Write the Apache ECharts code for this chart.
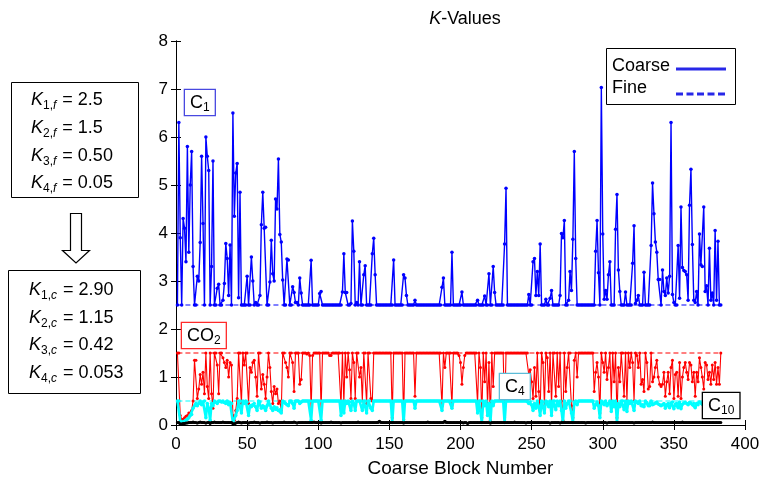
<!DOCTYPE html>
<html><head><meta charset="utf-8">
<script src="https://cdn.jsdelivr.net/npm/echarts@6/dist/echarts.min.js"></script>
<style>html,body{margin:0;padding:0;background:#fff}#c{width:763px;height:483px}</style>
</head><body><div id="c"></div>
<script>
// Coarse K-values per coarse block (block 1..383)
const coarseC1 = [
2.5,6.3,3.9,2.5,4.3,4.1,3.4,5.8,3.6,5.0,
5.7,3.3,2.5,2.5,3.1,3.0,3.8,5.6,4.2,2.5,
6.0,5.6,5.3,2.5,3.3,5.5,2.5,2.5,2.85,2.93,
2.5,2.5,2.6,2.95,3.78,3.47,2.7,3.75,2.5,6.5,
4.35,5.25,5.45,2.65,4.85,2.5,2.5,2.5,2.5,3.1,
2.5,2.5,3.5,3.0,2.5,2.55,2.5,2.5,2.7,4.17,
4.85,4.1,4.12,2.5,2.5,2.98,3.85,3.15,3.0,4.71,
4.5,5.54,3.97,3.81,3.02,2.5,2.5,3.46,3.44,2.5,
2.5,2.88,2.76,2.55,2.55,2.5,3.06,2.75,2.5,2.5,
2.5,2.5,2.5,2.5,3.43,2.5,2.5,2.5,2.5,2.5,
2.74,2.78,2.5,2.5,2.5,2.5,2.5,2.5,2.5,2.5,
2.5,2.5,2.5,2.5,2.5,2.5,2.77,3.57,2.76,2.76,
2.5,2.5,2.53,4.25,3.62,2.5,2.55,2.5,3.4,2.5,
2.5,3.13,3.32,2.5,2.5,2.5,2.5,3.57,3.89,3.13,
2.5,2.5,2.5,2.5,2.5,2.5,2.5,2.5,2.5,2.5,
2.5,2.5,3.44,2.5,2.5,2.5,2.5,2.5,2.5,3.13,
3.06,2.7,2.5,2.5,2.5,2.5,2.5,2.6,2.5,2.5,
2.5,2.5,2.5,2.5,2.5,2.5,2.5,2.5,2.5,2.5,
2.5,2.5,2.5,2.5,2.5,2.5,2.87,3.06,2.5,2.5,
2.5,2.5,2.5,3.6,2.5,2.5,2.5,2.5,2.5,2.5,
2.77,2.5,2.5,2.5,2.5,2.5,2.5,2.5,2.5,2.5,
2.5,2.6,2.5,2.5,2.5,2.5,2.69,2.5,2.5,3.15,
2.5,2.5,3.3,2.76,2.5,2.5,2.5,2.5,2.5,2.5,
3.77,4.93,2.5,2.5,2.5,2.5,2.5,2.5,2.5,2.5,
2.5,2.5,2.5,2.5,2.5,2.5,2.5,2.72,2.5,2.5,
3.4,3.47,2.7,3.2,2.7,3.77,2.5,2.5,2.5,2.62,
2.5,2.5,2.64,2.8,2.5,2.5,2.5,2.5,2.5,2.7,
3.99,3.9,4.26,2.5,2.5,2.6,3.2,2.8,3.87,5.7,
3.47,2.5,2.5,2.5,2.5,2.5,2.5,2.5,2.5,2.5,
2.5,2.5,2.5,2.5,3.62,4.26,3.17,2.5,7.03,3.98,
2.62,2.8,2.62,3.13,3.4,2.5,2.5,2.5,4.08,4.8,
3.23,2.78,2.5,2.5,2.5,2.77,2.5,2.5,2.5,2.5,
3.37,4.15,2.53,2.6,2.7,2.5,2.5,2.5,3.18,2.5,
2.5,2.5,2.5,3.74,5.04,4.4,3.81,3.6,3.03,3.03,
2.5,3.23,2.78,2.7,3.06,2.75,3.1,6.3,2.72,2.55,
2.5,2.5,3.74,2.64,4.54,3.28,3.22,3.2,3.13,2.6,
4.58,5.33,3.76,2.6,2.55,2.78,2.5,3.98,3.34,3.3,
4.54,2.78,2.9,2.5,3.68,2.6,2.75,2.5,4.05,2.6,
3.83,2.5,2.5
];
const coarseCO2 = [
1.5,1.5,0.2,0.12,0.12,0.15,0.18,0.2,0.25,0.22,
0.3,0.5,1.35,1.35,0.55,0.75,1.05,0.85,1.1,0.65,
1.5,0.8,0.55,1.5,0.65,0.35,1.5,1.5,1.25,0.65,
1.5,1.5,1.4,1.3,1.2,1.35,1.0,1.3,1.25,0.2,
0.1,0.3,0.55,1.5,1.5,0.45,1.5,1.25,1.5,1.5,
0.45,1.2,1.1,1.3,1.35,1.0,0.6,1.5,1.5,0.75,
1.05,0.85,0.55,1.0,1.5,1.2,0.7,0.45,0.8,0.65,
0.75,0.45,0.5,0.3,1.5,1.5,1.3,1.2,1.0,1.5,
1.5,1.3,0.7,1.5,1.5,1.5,0.85,0.95,1.5,1.5,
1.5,1.48,1.5,1.45,0.3,1.45,1.5,1.5,1.5,1.5,
1.5,0.3,1.5,1.5,1.5,1.5,1.5,1.45,1.45,1.5,
1.5,1.5,1.5,1.5,1.5,0.4,1.5,0.45,1.5,1.0,
1.5,1.15,0.55,1.5,1.3,0.55,1.5,1.5,1.0,1.2,
0.5,1.5,1.5,0.45,1.5,1.5,0.55,0.5,1.5,1.5,
1.5,1.5,1.5,1.5,1.5,1.5,1.5,1.5,1.5,1.5,
1.5,0.15,1.5,1.5,1.5,1.5,1.5,1.5,1.5,0.12,
1.5,1.5,1.5,1.5,1.5,1.5,1.5,0.6,1.5,1.5,
1.5,1.5,1.5,1.5,1.5,1.5,1.5,1.5,1.5,1.5,
1.5,1.5,1.5,1.5,1.5,1.5,0.4,1.5,1.2,1.5,
1.5,1.5,1.5,0.4,1.5,1.5,1.5,1.5,1.45,1.3,
0.85,1.2,1.45,1.5,1.5,1.5,1.5,1.5,1.5,1.5,
1.5,0.45,1.5,1.2,0.15,1.5,0.9,1.5,0.4,1.3,
0.1,1.5,0.8,1.5,1.5,1.5,1.5,1.5,1.5,1.5,
0.15,1.5,1.5,1.5,1.5,1.5,1.5,1.5,1.5,1.5,
1.5,1.5,1.5,1.5,1.5,1.5,1.5,1.05,1.15,0.9,
0.55,1.2,0.6,1.5,0.7,0.3,1.5,1.3,0.4,1.5,
1.4,0.7,1.5,0.4,1.5,1.5,0.6,1.5,0.8,1.5,
0.5,0.1,1.5,0.7,1.2,1.5,1.5,0.4,0.15,1.35,
1.5,1.0,1.5,1.5,1.5,1.5,1.5,1.5,1.5,1.5,
1.5,1.5,1.5,0.7,1.1,1.3,1.0,0.25,1.5,1.3,
1.1,1.5,0.95,1.2,1.5,0.5,1.5,0.9,1.5,0.15,
1.2,0.9,1.5,1.5,0.6,1.5,0.5,1.5,1.2,1.5,
1.3,0.5,1.5,1.45,1.2,1.5,0.85,0.95,0.7,1.5,
1.3,0.75,0.8,1.5,0.9,1.0,1.2,1.35,1.0,0.85,
0.8,0.85,1.1,0.6,0.9,1.1,0.65,1.2,1.35,0.55,
1.05,1.1,0.6,1.3,0.55,1.0,1.2,1.3,1.1,0.95,
1.3,1.25,0.9,1.1,0.6,1.1,0.9,1.4,1.2,1.0,
0.75,1.3,1.25,0.95,1.1,0.85,1.25,0.95,1.3,0.85,
1.2,0.85,1.5
];
const coarseC4 = [
0.5,0.5,0.08,0.05,0.06,0.08,0.1,0.12,0.15,0.2,
0.22,0.35,0.4,0.45,0.4,0.45,0.5,0.42,0.48,0.5,
0.15,0.45,0.35,0.1,0.45,0.4,0.5,0.48,0.45,0.5,
0.5,0.48,0.5,0.47,0.45,0.5,0.42,0.47,0.45,0.05,
0.03,0.2,0.3,0.5,0.5,0.25,0.5,0.45,0.5,0.48,
0.2,0.4,0.38,0.42,0.45,0.38,0.3,0.5,0.48,0.35,
0.4,0.38,0.3,0.4,0.5,0.42,0.35,0.3,0.38,0.33,
0.36,0.3,0.32,0.25,0.5,0.48,0.45,0.42,0.4,0.5,
0.5,0.45,0.35,0.5,0.5,0.5,0.45,0.48,0.5,0.5,
0.5,0.5,0.5,0.5,0.1,0.5,0.5,0.5,0.5,0.5,
0.5,0.1,0.5,0.5,0.5,0.5,0.5,0.5,0.5,0.5,
0.5,0.5,0.5,0.5,0.5,0.2,0.5,0.25,0.5,0.45,
0.5,0.48,0.3,0.5,0.45,0.3,0.5,0.5,0.5,0.5,
0.3,0.5,0.5,0.25,0.5,0.5,0.35,0.3,0.5,0.5,
0.5,0.5,0.5,0.5,0.5,0.5,0.5,0.5,0.5,0.5,
0.5,0.05,0.5,0.5,0.5,0.5,0.5,0.5,0.5,0.05,
0.5,0.5,0.5,0.5,0.5,0.5,0.5,0.35,0.5,0.5,
0.5,0.5,0.5,0.5,0.5,0.5,0.5,0.5,0.5,0.5,
0.5,0.5,0.5,0.5,0.5,0.5,0.3,0.5,0.5,0.5,
0.5,0.5,0.5,0.35,0.5,0.5,0.5,0.5,0.5,0.5,
0.5,0.5,0.5,0.5,0.5,0.5,0.5,0.5,0.5,0.5,
0.5,0.25,0.5,0.5,0.05,0.5,0.4,0.5,0.2,0.45,
0.05,0.5,0.4,0.5,0.5,0.5,0.5,0.5,0.5,0.5,
0.05,0.5,0.5,0.5,0.5,0.5,0.5,0.5,0.5,0.5,
0.5,0.5,0.5,0.5,0.5,0.5,0.5,0.45,0.48,0.42,
0.3,0.45,0.35,0.5,0.38,0.2,0.5,0.48,0.25,0.5,
0.48,0.38,0.5,0.2,0.5,0.5,0.32,0.5,0.4,0.5,
0.3,0.05,0.5,0.35,0.45,0.5,0.5,0.25,0.05,0.48,
0.5,0.42,0.5,0.5,0.5,0.5,0.5,0.5,0.5,0.5,
0.5,0.5,0.5,0.35,0.42,0.48,0.4,0.15,0.5,0.45,
0.42,0.5,0.4,0.45,0.5,0.28,0.5,0.38,0.5,0.05,
0.45,0.38,0.5,0.5,0.32,0.5,0.28,0.5,0.45,0.5,
0.48,0.3,0.5,0.48,0.45,0.5,0.4,0.42,0.38,0.5,
0.47,0.4,0.4,0.5,0.42,0.44,0.46,0.48,0.44,0.42,
0.4,0.42,0.45,0.35,0.42,0.45,0.36,0.46,0.48,0.34,
0.44,0.45,0.36,0.48,0.34,0.43,0.46,0.47,0.45,0.42,
0.47,0.46,0.42,0.45,0.36,0.45,0.42,0.48,0.46,0.43,
0.38,0.47,0.46,0.42,0.45,0.41,0.46,0.42,0.47,0.41,
0.46,0.42,0.5
];
const coarseC10 = [
0.05,0.05,0.02,0.02,0.03,0.03,0.04,0.04,0.05,0.05,
0.05,0.06,0.05,0.05,0.04,0.05,0.06,0.05,0.05,0.05,
0.04,0.05,0.05,0.03,0.05,0.05,0.06,0.05,0.05,0.05,
0.05,0.05,0.06,0.05,0.05,0.05,0.05,0.05,0.05,0.02,
0.02,0.04,0.05,0.06,0.05,0.04,0.05,0.05,0.05,0.05,
0.04,0.05,0.05,0.05,0.06,0.05,0.05,0.05,0.04,0.05,
0.05,0.05,0.05,0.06,0.05,0.05,0.05,0.04,0.05,0.05,
0.05,0.05,0.05,0.05,0.05,0.06,0.05,0.05,0.05,0.05,
0.05,0.05,0.06,0.05,0.04,0.05,0.05,0.05,0.05,0.05,
0.05,0.05,0.05,0.05,0.05,0.05,0.06,0.05,0.05,0.05,
0.05,0.04,0.05,0.05,0.05,0.05,0.05,0.05,0.06,0.05,
0.05,0.05,0.05,0.05,0.05,0.04,0.05,0.05,0.05,0.05,
0.05,0.05,0.05,0.05,0.05,0.05,0.05,0.06,0.05,0.05,
0.05,0.05,0.05,0.05,0.05,0.05,0.05,0.05,0.05,0.05,
0.05,0.05,0.08,0.05,0.05,0.05,0.05,0.05,0.05,0.05,
0.05,0.05,0.05,0.05,0.05,0.05,0.05,0.05,0.05,0.04,
0.05,0.05,0.05,0.05,0.05,0.05,0.05,0.05,0.05,0.05,
0.05,0.05,0.05,0.05,0.05,0.05,0.06,0.05,0.05,0.05,
0.05,0.05,0.05,0.05,0.05,0.05,0.05,0.05,0.08,0.05,
0.05,0.05,0.05,0.05,0.05,0.05,0.05,0.05,0.05,0.05,
0.05,0.04,0.05,0.05,0.03,0.05,0.05,0.05,0.05,0.05,
0.05,0.05,0.05,0.05,0.05,0.05,0.05,0.05,0.05,0.05,
0.04,0.05,0.05,0.05,0.05,0.05,0.05,0.05,0.05,0.05,
0.05,0.05,0.05,0.05,0.05,0.05,0.05,0.06,0.05,0.05,
0.05,0.05,0.05,0.05,0.05,0.04,0.05,0.05,0.05,0.05,
0.05,0.05,0.05,0.05,0.05,0.05,0.05,0.05,0.05,0.05,
0.05,0.05,0.04,0.05,0.05,0.05,0.05,0.05,0.05,0.04,
0.05,0.05,0.05,0.05,0.05,0.05,0.05,0.05,0.05,0.05,
0.05,0.05,0.05,0.05,0.05,0.05,0.05,0.04,0.05,0.05,
0.05,0.05,0.05,0.05,0.05,0.05,0.05,0.05,0.05,0.05,
0.05,0.05,0.04,0.05,0.05,0.05,0.05,0.05,0.05,0.05,
0.05,0.05,0.05,0.05,0.05,0.05,0.05,0.05,0.05,0.05,
0.05,0.04,0.05,0.05,0.05,0.05,0.05,0.05,0.05,0.05,
0.05,0.05,0.05,0.05,0.06,0.05,0.05,0.05,0.05,0.05,
0.05,0.05,0.05,0.05,0.05,0.05,0.05,0.05,0.05,0.05,
0.05,0.05,0.05,0.05,0.05,0.06,0.05,0.05,0.05,0.05,
0.05,0.05,0.05,0.05,0.05,0.05,0.05,0.05,0.05,0.05,
0.05,0.05,0.05,0.05,0.05,0.05,0.05,0.05,0.05,0.05,
0.05,0.05,0.05
];
// Fine-scale K values (constant) and coarse-scale K values (box)
const fineK = [2.5, 1.5, 0.50, 0.05];
const fineLabels = ['2.5', '1.5', '0.50', '0.05'];
const coarseKLabels = ['2.90', '1.15', '0.42', '0.053'];
const fineRange = [1, 383];
const xTicks = {min: 0, max: 400, interval: 50};
const yTicks = {min: 0, max: 8, interval: 1};
const legendNames = ['Coarse', 'Fine'];

const FONT = 'Liberation Sans, Arial, Helvetica, sans-serif';
const colors = {c1: '#0000ff', co2: '#ff0000', c4: '#00ffff', c10: '#000000'};

function xy(arr) { return arr.map((v, i) => [i + 1, v]); }
function fineLine(k) { return [[fineRange[0], k], [fineRange[1], k]]; }

const coarseSeries = [
  {arr: coarseC1, color: colors.c1, w: 1.4, s: 3.5},
  {arr: coarseCO2, color: colors.co2, w: 1.1, s: 3},
  {arr: coarseC4, color: colors.c4, w: 2.6, s: 3.5},
  {arr: coarseC10, color: colors.c10, w: 2.2, s: 3}
];
const fineColors = [colors.c1, colors.co2, colors.c4, colors.c10];

const series = [];
fineK.forEach((k, i) => {
  series.push({type: 'line', name: 'fine' + i, data: fineLine(k), symbol: 'none', silent: true,
    lineStyle: {color: fineColors[i], width: 1.2, type: [5, 3]}, z: 2});
});
coarseSeries.forEach((c, i) => {
  series.push({type: 'line', name: 'coarse' + i, data: xy(c.arr), symbol: 'circle', symbolSize: c.s,
    showAllSymbol: true, silent: true,
    itemStyle: {color: c.color}, lineStyle: {color: c.color, width: c.w}, z: 3 + i});
});

function kText(idx, subLetter, val) {
  return '{k|K}{s|' + idx + ',}{si|' + subLetter + '}{t| = ' + val + '}';
}
const richK = {
  k: {fontFamily: FONT, fontSize: 18, fontStyle: 'italic', lineHeight: 24, color: '#000'},
  s: {fontFamily: FONT, fontSize: 12, lineHeight: 12, verticalAlign: 'bottom', color: '#000'},
  si: {fontFamily: FONT, fontSize: 12, fontStyle: 'italic', lineHeight: 12, verticalAlign: 'bottom', color: '#000', padding: [0, 1, 0, 0]},
  t: {fontFamily: FONT, fontSize: 18, lineHeight: 24, color: '#000'}
};
const graphics = [];
graphics.push({type: 'rect', shape: {x: 11.5, y: 82.5, width: 127, height: 115}, style: {fill: '#fff', stroke: '#000', lineWidth: 1}});
graphics.push({type: 'rect', shape: {x: 8.5, y: 270.5, width: 132, height: 123}, style: {fill: '#fff', stroke: '#000', lineWidth: 1}});
graphics.push({type: 'polygon', shape: {points: [[70.5, 213.5], [81.5, 213.5], [81.5, 250.5], [89.5, 250.5], [76, 263], [62.5, 250.5], [70.5, 250.5]]},
  style: {fill: '#fff', stroke: '#000', lineWidth: 1.2}});
const fy = [100, 128, 156, 183], cy = [290, 318, 345, 373];
fineLabels.forEach((v, i) => {
  graphics.push({type: 'text', x: 31, y: fy[i], style: {text: kText(i + 1, 'f', v), rich: richK, verticalAlign: 'middle', align: 'left'}});
});
coarseKLabels.forEach((v, i) => {
  graphics.push({type: 'text', x: 29, y: cy[i], style: {text: kText(i + 1, 'c', v), rich: richK, verticalAlign: 'middle', align: 'left'}});
});
function compLabel(x, y, main, sub, color, border) {
  return {type: 'text', x: x, y: y, z: 100, style: {
    text: '{m|' + main + '}{b|' + sub + '}',
    rich: {m: {fontFamily: FONT, fontSize: 18, lineHeight: 22, color: color},
           b: {fontFamily: FONT, fontSize: 12, lineHeight: 12, verticalAlign: 'bottom', color: color}},
    backgroundColor: '#fff', borderColor: border, borderWidth: 1.3, padding: [2, 5, 1, 5]}};
}
graphics.push(compLabel(185, 90, 'C', '1', '#3a3ae8', '#4848e0'));
graphics.push(compLabel(182, 323, 'CO', '2', '#ff2020', '#ff2a2a'));
graphics.push(compLabel(500, 374, 'C', '4', '#44d4f0', '#5cbcd8'));
graphics.push(compLabel(703, 393, 'C', '10', '#000', '#000'));

// legend box (drawn as graphics so text is left-aligned and samples are right-aligned)
graphics.push({type: 'rect', z: 100, shape: {x: 606.5, y: 48.5, width: 129, height: 56}, style: {fill: '#fff', stroke: '#000', lineWidth: 1}});
graphics.push({type: 'text', z: 101, x: 612, y: 66, style: {text: legendNames[0], fontFamily: FONT, fontSize: 18, fill: '#000', verticalAlign: 'middle'}});
graphics.push({type: 'text', z: 101, x: 612, y: 88, style: {text: legendNames[1], fontFamily: FONT, fontSize: 18, fill: '#000', verticalAlign: 'middle'}});
graphics.push({type: 'line', z: 101, shape: {x1: 676, y1: 69, x2: 726, y2: 69}, style: {stroke: '#2828e8', lineWidth: 2.8}});
graphics.push({type: 'line', z: 101, shape: {x1: 676, y1: 94, x2: 726, y2: 94}, style: {stroke: '#2828e8', lineWidth: 2.8, lineDash: [7, 3.5]}});

const axisCommon = {
  axisLine: {show: true, lineStyle: {color: '#000', width: 1}},
  axisTick: {show: true, inside: true, length: 5, lineStyle: {color: '#000'}},
  splitLine: {show: false}
};

const chart = echarts.init(document.getElementById('c'), null, {renderer: 'canvas'});
chart.setOption({
  animation: false,
  backgroundColor: '#fff',
  title: {text: '{i|K}{n|-Values}', left: 460, top: 5, textAlign: 'center',
    textStyle: {fontWeight: 'normal', rich: {
      i: {fontFamily: FONT, fontSize: 18, fontStyle: 'italic', fontWeight: 'normal', color: '#000'},
      n: {fontFamily: FONT, fontSize: 18, fontWeight: 'normal', color: '#000'}}}},
  grid: {left: 176, right: 18, top: 41, bottom: 56, containLabel: false},
  xAxis: [
    Object.assign({type: 'value', position: 'bottom', min: xTicks.min, max: xTicks.max, interval: xTicks.interval,
      name: 'Coarse Block Number', nameLocation: 'middle', nameGap: 34,
      nameTextStyle: {fontFamily: FONT, fontSize: 19, color: '#000'},
      axisLabel: {fontFamily: FONT, fontSize: 17, color: '#000', margin: 11}}, axisCommon),
    Object.assign({type: 'value', position: 'top', min: xTicks.min, max: xTicks.max, interval: xTicks.interval,
      axisLabel: {show: false}}, axisCommon)
  ],
  yAxis: [
    Object.assign({type: 'value', position: 'left', min: yTicks.min, max: yTicks.max, interval: yTicks.interval,
      axisLabel: {fontFamily: FONT, fontSize: 17, color: '#000', margin: 8}}, axisCommon),
    Object.assign({type: 'value', position: 'right', min: yTicks.min, max: yTicks.max, interval: yTicks.interval,
      axisLabel: {show: false}}, axisCommon)
  ],
  series: series,
  graphic: graphics
});
</script></body></html>
